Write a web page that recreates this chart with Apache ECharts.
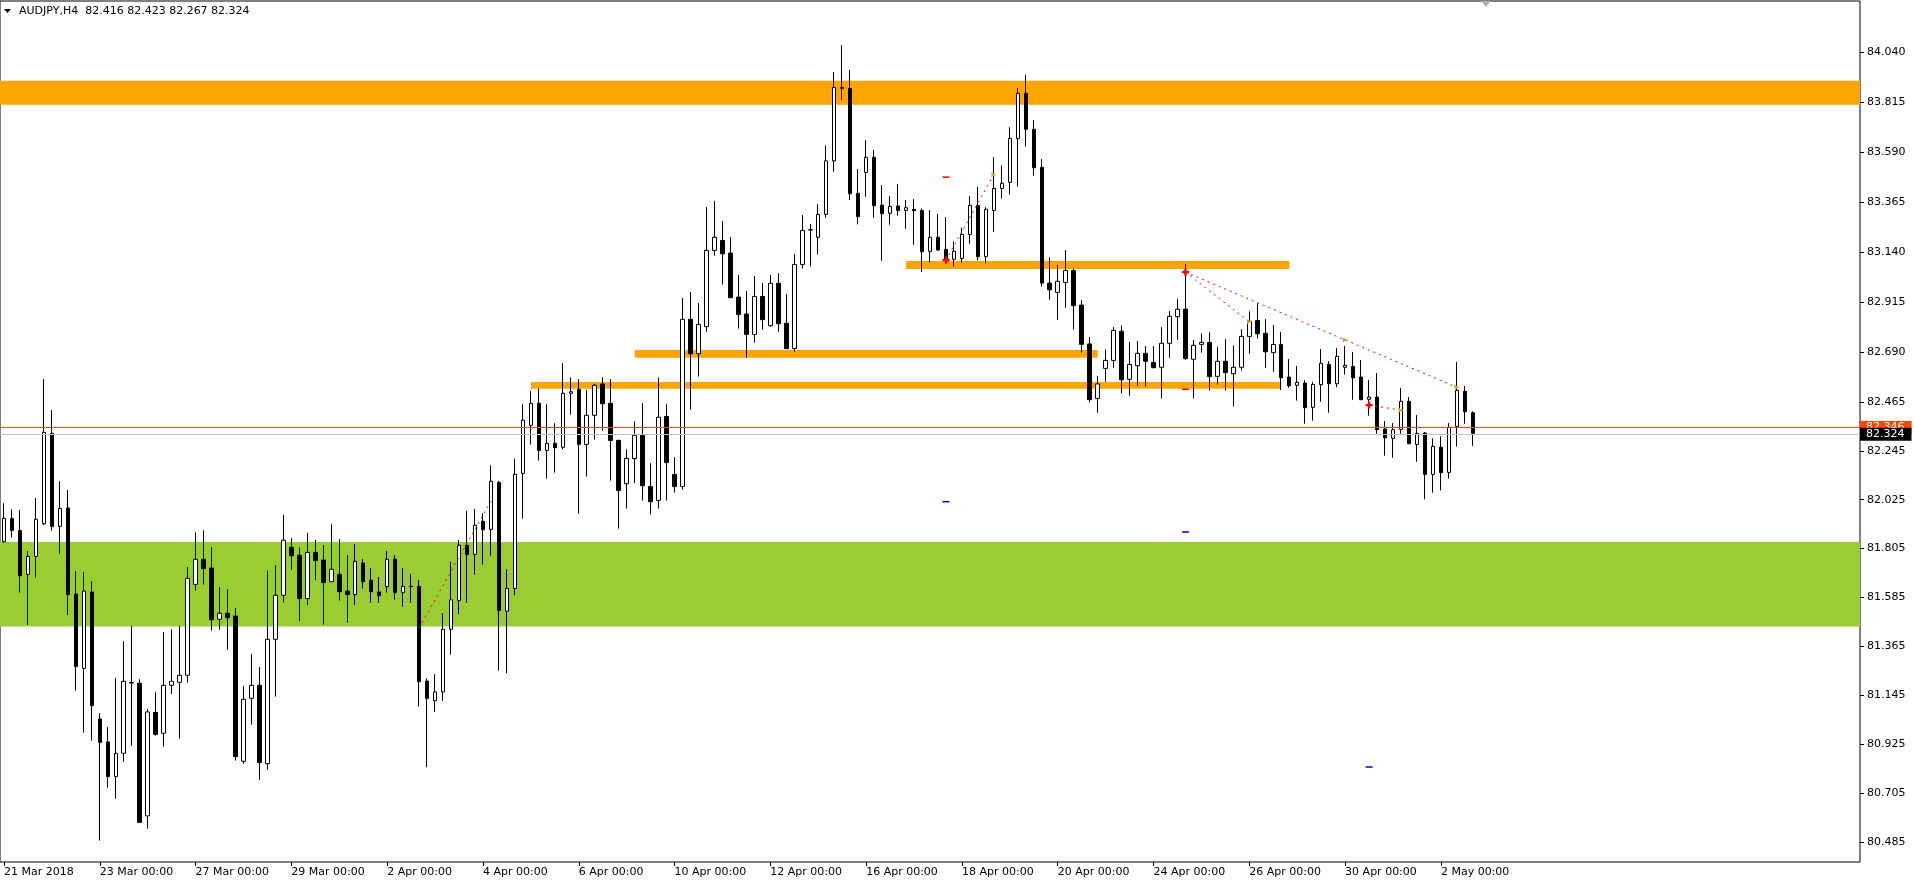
<!DOCTYPE html>
<html><head><meta charset="utf-8">
<script src="https://cdn.jsdelivr.net/npm/echarts@6/dist/echarts.min.js"></script>
<style>html,body{margin:0;padding:0;background:#fff;overflow:hidden}#c{width:1914px;height:882px}</style>
</head><body><div id="c"></div>
<script>
const symbolName = 'AUDJPY,H4';
const tickLabels = ['21 Mar 2018','23 Mar 00:00','27 Mar 00:00','29 Mar 00:00','2 Apr 00:00','4 Apr 00:00','6 Apr 00:00','10 Apr 00:00','12 Apr 00:00','16 Apr 00:00','18 Apr 00:00','20 Apr 00:00','24 Apr 00:00','26 Apr 00:00','30 Apr 00:00','2 May 00:00'];
const yTicks = [84.040,83.815,83.590,83.365,83.140,82.915,82.690,82.465,82.245,82.025,81.805,81.585,81.365,81.145,80.925,80.705,80.485];

const opens = [81.836,81.941,81.887,81.689,81.770,81.917,82.324,81.905,81.988,81.601,81.266,81.610,81.038,80.935,80.779,80.884,81.202,81.199,80.602,81.068,
80.974,81.190,81.203,81.235,81.644,81.757,81.718,81.487,81.514,81.502,80.848,81.131,81.190,80.837,81.397,81.595,81.811,81.775,81.580,81.788,
81.754,81.656,81.689,81.614,81.598,81.740,81.662,81.610,81.634,81.757,81.608,81.635,81.635,81.209,81.120,81.160,81.442,81.572,81.820,81.779,
81.928,81.892,82.103,81.523,81.626,82.144,82.360,82.459,82.247,82.279,82.261,82.504,82.522,82.274,82.405,82.546,82.459,82.292,82.097,82.210,
82.315,82.085,82.022,82.400,82.139,82.085,82.837,82.682,82.804,83.147,83.192,83.135,82.937,82.861,82.769,82.940,82.808,82.999,82.819,82.706,
83.084,83.240,83.206,83.309,83.550,83.880,83.876,83.404,83.498,83.566,83.351,83.314,83.347,83.327,83.332,83.327,83.143,83.206,83.152,83.107,
83.111,83.219,83.350,83.119,83.327,83.426,83.453,83.650,83.854,83.692,83.521,83.000,82.958,83.003,83.057,82.901,82.726,82.481,82.616,82.652,
82.783,82.567,82.628,82.684,82.643,82.621,82.729,82.849,82.883,82.657,82.724,82.733,82.580,82.648,82.592,82.621,82.760,82.832,82.774,82.687,
82.724,82.577,82.540,82.550,82.441,82.543,82.634,82.547,82.621,82.625,82.577,82.477,82.487,82.343,82.301,82.342,82.468,82.274,82.325,82.139,
82.261,82.148,82.355,82.513,82.416];
const highs = [82.009,81.982,81.979,81.794,82.033,82.568,82.429,82.109,82.069,81.704,81.700,81.659,81.064,81.002,81.223,81.389,81.457,81.217,81.083,81.160,
81.430,81.442,81.457,81.722,81.878,81.887,81.812,81.632,81.623,81.538,81.187,81.331,81.272,81.705,81.731,81.957,81.853,81.811,81.876,81.844,
81.821,81.916,81.848,81.776,81.826,81.758,81.718,81.677,81.794,81.776,81.718,81.691,81.664,81.221,81.240,81.514,81.745,81.844,81.974,81.983,
81.965,82.180,82.110,81.712,82.210,82.456,82.514,82.526,82.456,82.369,82.639,82.576,82.567,82.519,82.547,82.576,82.567,82.295,82.252,82.378,
82.459,82.189,82.576,82.454,82.217,82.933,82.960,82.910,83.342,83.370,83.279,83.207,83.036,82.964,83.032,83.000,83.036,83.045,82.951,83.131,
83.306,83.266,83.356,83.620,83.950,84.071,83.959,83.513,83.644,83.599,83.441,83.392,83.446,83.374,83.378,83.336,83.329,83.311,83.297,83.188,
83.249,83.392,83.432,83.341,83.567,83.530,83.701,83.879,83.936,83.734,83.558,83.116,83.081,83.149,83.066,82.924,82.757,82.582,82.702,82.802,
82.810,82.735,82.739,82.717,82.717,82.802,82.874,82.928,83.086,82.744,82.774,82.780,82.712,82.747,82.720,82.792,82.873,82.909,82.838,82.811,
82.780,82.658,82.627,82.564,82.556,82.703,82.649,82.708,82.717,82.690,82.654,82.564,82.595,82.379,82.370,82.528,82.487,82.406,82.330,82.301,
82.310,82.370,82.645,82.537,82.423];
const lows = [81.830,81.854,81.607,81.461,81.674,81.911,81.886,81.782,81.506,81.166,80.977,80.941,80.491,80.729,80.680,80.846,80.918,80.573,80.545,80.963,
80.914,81.151,80.950,81.202,81.616,81.643,81.436,81.440,81.350,80.851,80.837,81.013,80.764,80.810,81.139,81.562,81.709,81.479,81.551,81.664,
81.463,81.656,81.571,81.472,81.551,81.625,81.562,81.562,81.607,81.575,81.544,81.562,81.094,80.821,81.070,81.120,81.328,81.511,81.562,81.688,
81.733,81.773,81.256,81.244,81.595,81.940,82.273,82.201,82.120,82.147,82.252,82.408,81.962,82.129,82.295,82.336,82.111,81.895,81.985,82.099,
82.021,81.958,81.985,82.021,82.057,82.070,82.430,82.579,82.781,83.123,82.993,82.934,82.795,82.664,82.732,82.790,82.804,82.781,82.705,82.691,
83.065,83.074,83.129,83.294,83.500,83.824,83.374,83.264,83.389,83.294,83.101,83.263,83.303,83.245,83.173,83.051,83.092,83.146,83.089,83.074,
83.092,83.177,83.102,83.089,83.231,83.380,83.398,83.434,83.614,83.483,82.984,82.924,82.835,82.889,82.790,82.687,82.463,82.417,82.556,82.619,
82.504,82.493,82.538,82.534,82.619,82.480,82.664,82.744,82.654,82.480,82.687,82.516,82.543,82.516,82.444,82.606,82.682,82.751,82.619,82.601,
82.519,82.529,82.471,82.367,82.381,82.466,82.417,82.531,82.588,82.475,82.475,82.403,82.322,82.223,82.214,82.322,82.277,82.196,82.027,82.057,
82.067,82.120,82.264,82.367,82.267];
const closes = [81.941,81.887,81.683,81.770,81.937,82.328,81.904,81.986,81.598,81.274,81.614,81.098,80.932,80.779,80.884,81.208,81.200,80.573,81.070,80.969,
81.190,81.208,81.235,81.671,81.757,81.715,81.485,81.514,81.494,80.869,81.127,81.190,80.842,81.397,81.595,81.843,81.773,81.580,81.788,81.751,
81.652,81.712,81.611,81.598,81.748,81.656,81.611,81.593,81.757,81.607,81.635,81.634,81.206,81.131,81.160,81.442,81.574,81.820,81.778,81.910,
81.890,82.108,81.527,81.626,82.139,82.383,82.459,82.247,82.279,82.259,82.504,82.511,82.274,82.405,82.540,82.457,82.292,82.066,82.211,82.315,
82.088,82.016,82.396,82.192,82.084,82.837,82.682,82.814,83.147,83.206,83.132,82.934,82.858,82.769,82.940,82.835,82.999,82.817,82.705,83.084,
83.237,83.239,83.309,83.550,83.880,83.876,83.402,83.299,83.566,83.348,83.312,83.345,83.326,83.339,83.326,83.141,83.206,83.149,83.101,83.143,
83.219,83.350,83.119,83.332,83.426,83.449,83.651,83.854,83.692,83.519,83.000,82.970,83.008,83.057,82.898,82.724,82.475,82.546,82.652,82.787,
82.565,82.634,82.684,82.648,82.619,82.729,82.850,82.882,82.660,82.720,82.733,82.579,82.648,82.597,82.621,82.760,82.828,82.772,82.691,82.724,
82.574,82.538,82.553,82.439,82.544,82.639,82.547,82.670,82.630,82.574,82.475,82.487,82.340,82.304,82.340,82.468,82.277,82.324,82.139,82.265,
82.147,82.351,82.517,82.421,82.324];

const bidPrice = 82.324;
const askPrice = 82.346;
const slotCount = 233;
// horizontal zones spanning full width: [upper, lower]
const orangeZone = [83.911, 83.803];
const greenZone = [81.835, 81.454];
// level rectangles: [startIndex, endIndex, upper, lower]
const levelRects = [[113,161,83.099,83.063],[79,137,82.699,82.664],[66,160,82.555,82.524]];
// trend lines: [i1, p1, i2, p2]
const trendLines = [[52,81.448,61,82.019],[118,83.104,124,83.489],[148,83.049,182,82.531],[148,83.049,156,82.826],[171,82.451,175,82.428]];
// cross markers [index, price]
const crossMarks = [[118,83.104],[148,83.049],[171,82.451]];
const endMarks = [[124,83.489],[156,82.826],[168,82.744],[182,82.531],[175,82.428]];
const redDashes = [[118,83.477],[148,82.522]];
const blueDashes = [[118,82.016],[148,81.880],[171,80.822]];

const categories = Array.from({length: slotCount}, (_, i) => String(i));
const candleData = opens.map((o, i) => [o, closes[i], lows[i], highs[i]]);
const yMin = 80.3946, yMax = 84.2695;
const FONT = 'DejaVu Sans';
const showTick = (idx) => idx % 12 === 0 && idx / 12 < tickLabels.length;

const markAreaData = [
  [{yAxis: orangeZone[0], itemStyle: {color: '#ffa500'}}, {yAxis: orangeZone[1]}],
  [{yAxis: greenZone[0], itemStyle: {color: '#9acd32'}}, {yAxis: greenZone[1]}]
].concat(levelRects.map(r => [{coord: [r[0], r[2]], itemStyle: {color: '#ffa500'}}, {coord: [r[1], r[3]]}]));

const lineData = trendLines.map(t => [{coord: [t[0], t[1]]}, {coord: [t[2], t[3]]}]);

const crossPath = 'path://M2,0H4V2H6V4H4V6H2V4H0V2H2Z';
const markPoints = []
  .concat(crossMarks.map(c => ({coord: c, symbol: crossPath, symbolSize: 7, itemStyle: {color: '#ff0000'}})))
  .concat(endMarks.map(c => ({coord: c, symbol: 'triangle', symbolRotate: -90, symbolSize: 5, itemStyle: {color: '#daa520'}})))
  .concat(redDashes.map(c => ({coord: c, symbol: 'rect', symbolSize: [7, 1.5], itemStyle: {color: '#ff0000'}})))
  .concat(blueDashes.map(c => ({coord: c, symbol: 'rect', symbolSize: [7, 1.5], itemStyle: {color: '#0000ff'}})));

const chart = echarts.init(document.getElementById('c'), null, {renderer: 'canvas'});
chart.setOption({
  animation: false,
  backgroundColor: '#ffffff',
  grid: {left: -4, right: 54, top: 1, bottom: 20, show: true, borderColor: '#000', borderWidth: 1, backgroundColor: 'transparent'},
  graphic: [
    {type: 'polygon', left: 4, top: 9, shape: {points: [[0,0],[7,0],[3.5,4]]}, style: {fill: '#000'}},
    {type: 'text', left: 19, top: 6, style: {text: symbolName + '  ' + [opens[opens.length-1], highs[highs.length-1], lows[lows.length-1], closes[closes.length-1]].map(v => v.toFixed(3)).join(' '), font: '11px ' + FONT, fill: '#000'}},
    {type: 'polygon', left: 1481, top: 1, shape: {points: [[0,0],[10,0],[5,6]]}, style: {fill: '#b0b0b0'}}
  ],
  xAxis: {
    type: 'category', data: categories, boundaryGap: true,
    axisLine: {show: false},
    axisTick: {show: true, alignWithLabel: true, interval: (idx) => showTick(idx), length: 4, lineStyle: {color: '#000'}},
    axisLabel: {interval: (idx) => showTick(idx), formatter: (v, idx) => tickLabels[idx / 12], align: 'left', margin: 5, color: '#000', fontFamily: FONT, fontSize: 11},
    splitLine: {show: false}
  },
  yAxis: {
    type: 'value', position: 'right', min: yMin, max: yMax, scale: true,
    axisLine: {show: false},
    axisTick: {show: true, customValues: yTicks, length: 4, lineStyle: {color: '#000'}},
    axisLabel: {customValues: yTicks, formatter: v => v.toFixed(3), margin: 7, color: '#000', fontFamily: FONT, fontSize: 11},
    splitLine: {show: false}
  },
  series: [{
    type: 'candlestick', data: candleData, barWidth: 4,
    itemStyle: {color: '#ffffff', color0: '#000000', borderColor: '#000000', borderColor0: '#000000', borderWidth: 1},
    markArea: {silent: true, data: markAreaData, itemStyle: {opacity: 1}},
    markLine: {silent: true, symbol: 'none', data: lineData, label: {show: false},
      lineStyle: {color: '#ff0000', type: [2, 4], width: 1}},
    markPoint: {silent: true, data: markPoints, label: {show: false}}
  }, {
    type: 'line', data: [], z: 5,
    markLine: {silent: true, symbol: 'none', animation: false,
      data: [
        {yAxis: askPrice, lineStyle: {color: '#ff4500', type: 'solid', width: 1},
          label: {show: true, position: 'end', distance: 0, formatter: askPrice.toFixed(3), backgroundColor: '#ff4500', color: '#fff', fontFamily: FONT, fontSize: 11, padding: [1,7,1,6]}},
        {yAxis: bidPrice, lineStyle: {color: '#c0c0c0', type: 'solid', width: 1},
          label: {show: true, position: 'end', distance: 0, formatter: bidPrice.toFixed(3), backgroundColor: '#000', color: '#fff', fontFamily: FONT, fontSize: 11, padding: [1,7,1,6]}}
      ]}
  }]
});
</script></body></html>
